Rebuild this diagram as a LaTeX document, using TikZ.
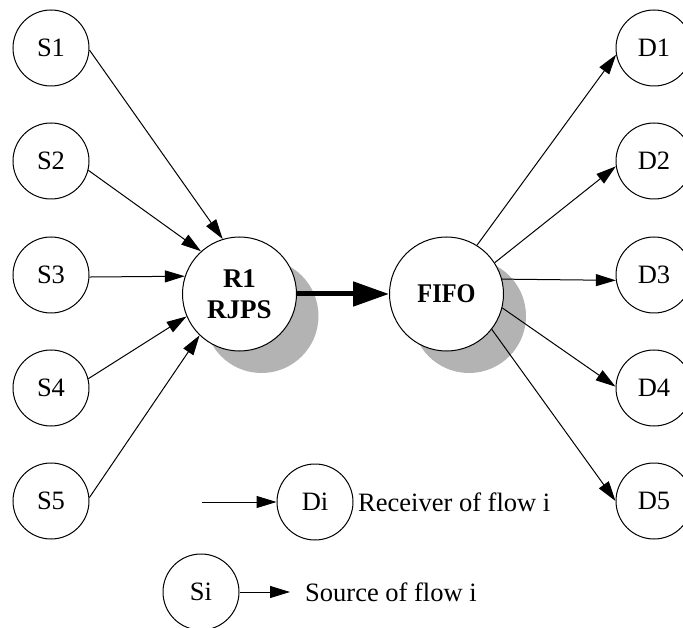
\documentclass[tikz,border=0pt]{standalone}
\usepackage{fontspec}
\setmainfont{Liberation Serif}
\usetikzlibrary{arrows.meta}
\definecolor{shadowgray}{RGB}{179,179,179}
\begin{document}
\begin{tikzpicture}[x=1pt,y=-1pt,
  endpoint/.style={circle,draw,line width=1pt,minimum size=76pt,inner sep=0pt,
    font=\fontsize{26.5}{31}\selectfont},
  router/.style={circle,draw,line width=1pt,fill=white,minimum size=114pt,inner sep=0pt,
    align=center,font=\fontsize{27}{31}\selectfont\bfseries},
  dropshadow/.style={circle,fill=shadowgray,minimum size=114pt,inner sep=0pt},
  flow/.style={line width=1pt,-{Triangle[length=20pt,width=12pt]}},
  trunk/.style={line width=5pt,-{Triangle[length=36pt,width=24pt]}},
  legendtext/.style={anchor=west,inner sep=0pt,font=\fontsize{26.5}{31}\selectfont}]
\clip (0,0) rectangle (683,628);

% sources
\node[endpoint] (S1) at (51,48)  {S1};
\node[endpoint] (S2) at (51,161) {S2};
\node[endpoint] (S3) at (51,275) {S3};
\node[endpoint] (S4) at (51,388) {S4};
\node[endpoint] (S5) at (51,501) {S5};

% destinations
\node[endpoint] (D1) at (654,48)  {D1};
\node[endpoint] (D2) at (654,161) {D2};
\node[endpoint] (D3) at (654,275) {D3};
\node[endpoint] (D4) at (654,388) {D4};
\node[endpoint] (D5) at (654,501) {D5};

% routers with drop shadows
\node[dropshadow] (R1s) at (261.5,316) {};
\node[dropshadow] (FIFOs) at (469,316) {};
\node[router] (R1) at (239.5,294) {R1\\RJPS};
\node[router] (FIFO) at (446.5,294) {\scalebox{0.9}[1]{FIFO}};

% flows into R1
\draw[flow] (S1.-3)  -- (R1.107);
\draw[flow] (S2.-14) -- (R1.132);
\draw[flow] (S3.-3)  -- (R1.162.7);
\draw[flow] (S4.14)  -- (R1.203);
\draw[flow] (S5.5)   -- (R1.226);

% link between routers
\draw[trunk] (R1.east) -- (FIFO.west);

% flows out of FIFO
\draw[flow] (FIFO.58)  -- (D1.190);
\draw[flow] (FIFO.33)  -- (D2.188);
\draw[flow] (FIFO.15)  -- (D3.188);
\draw[flow] (FIFO.-14) -- (D4.178);
\draw[flow] (FIFO.-38) -- (D5.180);

% legend
\node[endpoint] (Di) at (315,502) {Di};
\coordinate (Din) at (202,502);
\draw[flow] (Din) -- (Di.west);
\node[legendtext] (Dtxt) at (358,502) {Receiver of flow i};

\node[endpoint] (Si) at (201,592) {Si};
\coordinate (Sout) at (290,592);
\draw[flow] (Si.east) -- (Sout);
\node[legendtext] (Stxt) at (305,592) {Source of flow i};
\end{tikzpicture}
\end{document}
